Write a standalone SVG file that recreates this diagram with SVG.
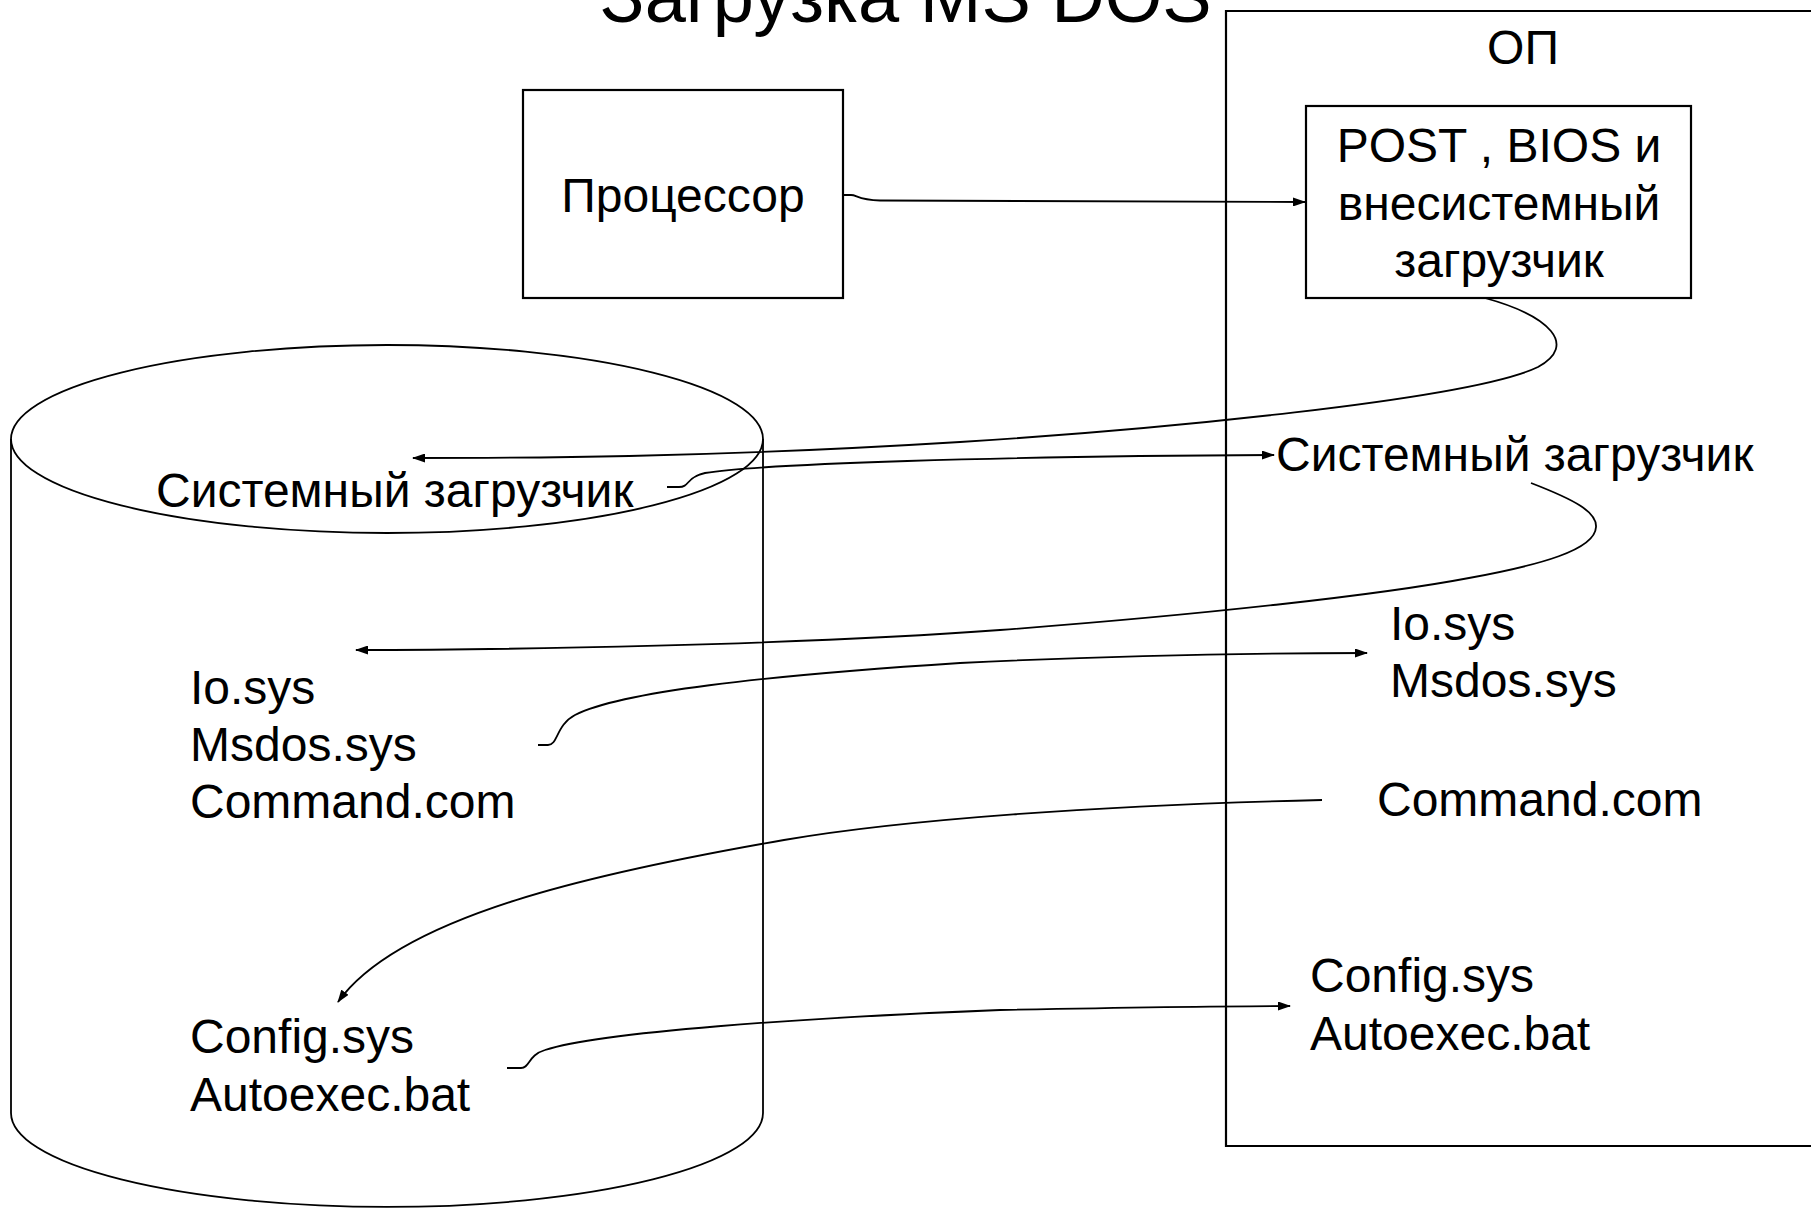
<svg xmlns="http://www.w3.org/2000/svg" width="1811" height="1208" viewBox="0 0 1811 1208">
<style>
  text { font-family: "Liberation Sans", Arial, sans-serif; font-size: 48px; fill: #000; }
  .box { fill: #fff; stroke: #000; stroke-width: 2.2; }
  .shape { fill: none; stroke: #000; stroke-width: 1.8; }
  .conn { fill: none; stroke: #000; stroke-width: 1.8; }
  .arr { marker-end: url(#ah); }
  .mid { text-anchor: middle; }
</style>
<defs>
  <marker id="ah" markerUnits="userSpaceOnUse" markerWidth="13" markerHeight="9" refX="12" refY="4.5" orient="auto">
    <path d="M0,0 L13,4.5 L0,9 z" fill="#000"/>
  </marker>
</defs>
<rect width="1811" height="1208" fill="#fff"/>

<text id="title" x="600" y="22" style="font-size:74px">Загрузка MS DOS</text>

<g id="op">
  <path class="box" d="M1900 11 H1226 V1146 H1900" fill="none"/>
  <text class="mid" x="1523" y="64">ОП</text>
</g>

<g id="processor">
  <rect class="box" x="523" y="90" width="320" height="208"/>
  <text class="mid" x="683" y="212">Процессор</text>
</g>

<g id="post-bios">
  <rect class="box" x="1306" y="106" width="385" height="192"/>
  <text class="mid" x="1499" y="162">POST , BIOS и</text>
  <text class="mid" x="1499" y="220">внесистемный</text>
  <text class="mid" x="1499" y="277">загрузчик</text>
</g>

<g id="disk">
  <path class="shape" d="M11 439 V1113 A376 94 0 0 0 763 1113 V439"/>
  <ellipse class="shape" cx="387" cy="439" rx="376" ry="94"/>
  <text x="156" y="507">Системный загрузчик</text>
  <text x="190" y="704">Io.sys</text>
  <text x="190" y="761">Msdos.sys</text>
  <text x="190" y="818">Command.com</text>
  <text x="190" y="1053">Config.sys</text>
  <text x="190" y="1111">Autoexec.bat</text>
</g>

<g id="ram-loader">
  <text x="1276" y="471">Системный загрузчик</text>
</g>
<g id="ram-io">
  <text x="1390" y="640">Io.sys</text>
  <text x="1390" y="697">Msdos.sys</text>
</g>
<g id="ram-command">
  <text x="1377" y="816">Command.com</text>
</g>
<g id="ram-config">
  <text x="1310" y="992">Config.sys</text>
  <text x="1310" y="1050">Autoexec.bat</text>
</g>

<g id="connectors">
  <path class="conn arr" d="M844 195 L851 195 C857 195, 858 200, 880 200.5 L1305 202"/>
  <path class="conn arr" d="M1485 298 C1550 316, 1578 345, 1538 367 C1470 400, 1150 430, 960 442 C700 458, 520 458, 413 458"/>
  <path class="conn arr" d="M667 487 L679 487 C690 487, 686 477, 705 473 C760 464, 1000 456, 1274 455"/>
  <path class="conn arr" d="M1531 483 C1575 500, 1597 512, 1596 527 C1595 550, 1540 565, 1469 578 C1380 595, 1200 615, 1000 630 C800 645, 500 650, 356 650"/>
  <path class="conn arr" d="M538 745 L548 745 C558 745, 556 725, 575 715 C620 692, 760 676, 960 663 C1120 655, 1250 653, 1367 653"/>
  <path class="conn arr" d="M1322 800 C1100 805, 900 820, 784 840 C600 872, 400 915, 338 1002"/>
  <path class="conn arr" d="M507 1068 L521 1068 C530 1068, 528 1055, 545 1050 C600 1032, 800 1018, 1000 1010 C1150 1007, 1230 1006, 1290 1006"/>
</g>
</svg>
